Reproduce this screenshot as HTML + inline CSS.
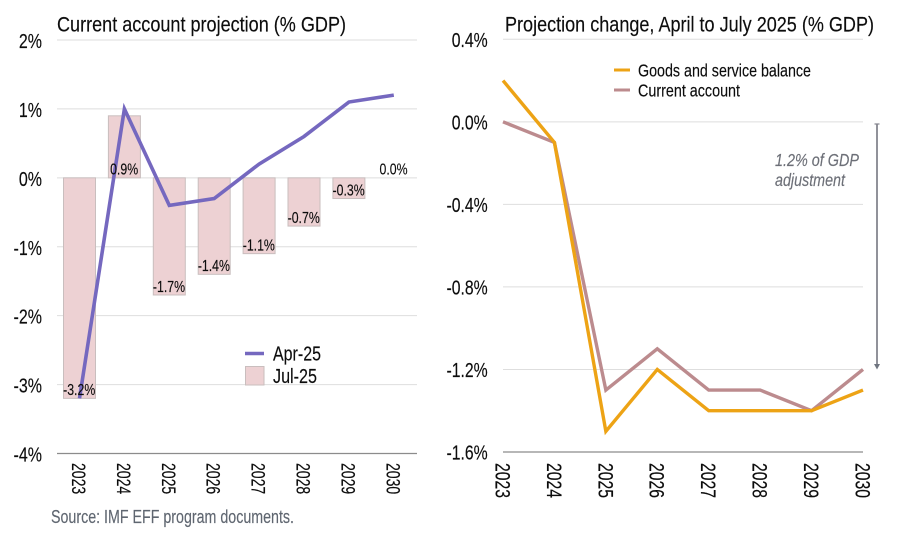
<!DOCTYPE html>
<html lang="en">
<head>
<meta charset="utf-8">
<title>Current account projection</title>
<style>
html,body{margin:0;padding:0;background:#fff;width:904px;height:540px;overflow:hidden}
svg{display:block;filter:blur(0.35px)}
text{font-family:"Liberation Sans",Arial,sans-serif;fill:#0d0d0d;stroke:#0d0d0d;stroke-width:0.15px}
</style>
</head>
<body>
<svg id="chart" width="904" height="540" viewBox="0 0 904 540" xmlns="http://www.w3.org/2000/svg"></svg>
<script>
const categories = ['2023','2024','2025','2026','2027','2028','2029','2030'];
const aprValues = [-3.2,1.0,-0.4,-0.3,0.2,0.6,1.1,1.2];
const julValues = [-3.2,0.9,-1.7,-1.4,-1.1,-0.7,-0.3,0.0];
const leftTicks = [2,1,0,-1,-2,-3,-4];
const goodsValues = [0.2,-0.1,-1.5,-1.2,-1.4,-1.4,-1.4,-1.3];
const currentValues = [0.0,-0.1,-1.3,-1.1,-1.3,-1.3,-1.4,-1.2];
const rightTicks = [0.4,0.0,-0.4,-0.8,-1.2,-1.6];

const svg = document.getElementById('chart');
const NS = 'http://www.w3.org/2000/svg';

function make(tag, attrs, name, parent) {
  const el = document.createElementNS(NS, tag);
  for (const k in attrs) el.setAttribute(k, attrs[k]);
  
  
  (parent || svg).appendChild(el);
  return el;
}
function label(str, x, y, size, sx, anchor, name, extra) {
  const el = make('text', Object.assign({
    transform: 'translate(' + x + ',' + y + ') scale(' + sx + ',1)',
    'font-size': size,
    'text-anchor': anchor
  }, extra || {}), name);
  el.textContent = str;
  return el;
}
function fitted(str, x, y, size, len, name, extra) {
  const el = make('text', Object.assign({
    x: x, y: y, 'font-size': size, textLength: len, lengthAdjust: 'spacingAndGlyphs'
  }, extra || {}), name);
  el.textContent = str;
  return el;
}
function vertical(str, cx, top, size, sx, name) {
  const el = make('text', {
    transform: 'translate(' + (cx - size * 0.36) + ',' + top + ') rotate(90) scale(' + sx + ',1)',
    'font-size': size,
    'text-anchor': 'start'
  }, name);
  el.textContent = str;
  return el;
}

/* ---------- left panel ---------- */
const L = {x0: 57, x1: 417, yTop: 40, yBottom: 453.5, max: 2, min: -4};
const leftY = v => L.yTop + (L.max - v) * (L.yBottom - L.yTop) / (L.max - L.min);
const leftBand = 44.9;
const leftX = i => 79.5 + i * leftBand;
const barW = 32;

fitted('Current account projection (% GDP)', 57, 31.5, 21.5, 289, 'left-chart-title');

leftTicks.forEach(t => {
  const y = leftY(t);
  make('line', {x1: L.x0, x2: L.x1, y1: y, y2: y, stroke: t === L.min ? '#8c8c8c' : '#dedede', 'stroke-width': t === L.min ? 1.2 : 1}, t === L.min ? 'left-x-axis' : 'left-gridline');
  label(t + '%', 42, y + 8, 20, 0.8, 'end', 'left-y-tick-label');
});

julValues.forEach((v, i) => {
  if (v === 0) return;
  const top = Math.min(leftY(v), leftY(0));
  const h = Math.abs(leftY(v) - leftY(0));
  make('rect', {x: leftX(i) - barW / 2, y: top, width: barW, height: h, fill: '#edd1d3', stroke: '#c9bebe', 'stroke-width': 1}, 'bar-jul-25-' + categories[i]);
});

make('polyline', {
  points: aprValues.map((v, i) => leftX(i) + ',' + leftY(v)).join(' '),
  fill: 'none', stroke: '#7568bf', 'stroke-width': 3.6, 'stroke-linejoin': 'miter'
}, 'line-apr-25');

julValues.forEach((v, i) => {
  const anchorY = v < 0 ? leftY(v) : leftY(0);
  label(v.toFixed(1) + '%', leftX(i) - 0.3, anchorY - 3.2, 16, 0.77, 'middle', 'data-label-' + categories[i]);
});

categories.forEach((c, i) => {
  vertical(c, leftX(i) - 0.5, 463, 19.5, 0.72, 'left-x-tick-label');
});

make('line', {x1: 245, x2: 264, y1: 353.5, y2: 353.5, stroke: '#7568bf', 'stroke-width': 3.4}, 'legend-apr-25-line');
fitted('Apr-25', 273, 360.5, 20, 48, 'legend-apr-25-label');
make('rect', {x: 245.5, y: 366.5, width: 18.5, height: 18.5, fill: '#edd1d3', stroke: '#c9bebe', 'stroke-width': 1}, 'legend-jul-25-swatch');
fitted('Jul-25', 273, 383, 20, 44, 'legend-jul-25-label');

fitted('Source: IMF EFF program documents.', 51, 523, 18, 243, 'source-note', {style: 'fill:#5f6670;stroke:#5f6670'});

/* ---------- right panel ---------- */
const R = {x0: 503, x1: 863, yTop: 39.3, yBottom: 452, max: 0.4, min: -1.6};
const rightY = v => R.yTop + (R.max - v) * (R.yBottom - R.yTop) / (R.max - R.min);
const rightX = i => R.x0 + i * (R.x1 - R.x0) / (categories.length - 1);

fitted('Projection change, April to July 2025 (% GDP)', 505, 31.5, 21.5, 369, 'right-chart-title');

rightTicks.forEach(t => {
  const y = rightY(t);
  make('line', {x1: R.x0, x2: R.x1, y1: y, y2: y, stroke: t === R.min ? '#8c8c8c' : '#dedede', 'stroke-width': t === R.min ? 1.2 : 1}, t === R.min ? 'right-x-axis' : 'right-gridline');
  label(t.toFixed(1) + '%', 487.7, y + 7.5, 20, 0.79, 'end', 'right-y-tick-label');
});

make('polyline', {
  points: currentValues.map((v, i) => rightX(i) + ',' + rightY(v)).join(' '),
  fill: 'none', stroke: '#bc8b8e', 'stroke-width': 3.4, 'stroke-linejoin': 'miter'
}, 'line-current-account');
make('polyline', {
  points: goodsValues.map((v, i) => rightX(i) + ',' + rightY(v)).join(' '),
  fill: 'none', stroke: '#eda315', 'stroke-width': 3.4, 'stroke-linejoin': 'miter'
}, 'line-goods-and-service-balance');

categories.forEach((c, i) => {
  vertical(c, rightX(i), 463, 21, 0.75, 'right-x-tick-label');
});

make('line', {x1: 614, x2: 630, y1: 70, y2: 70, stroke: '#eda315', 'stroke-width': 3}, 'legend-goods-line');
fitted('Goods and service balance', 638, 76.5, 17.5, 173, 'legend-goods-label');
make('line', {x1: 614, x2: 630, y1: 90, y2: 90, stroke: '#bc8b8e', 'stroke-width': 3}, 'legend-current-account-line');
fitted('Current account', 638, 96.5, 17.5, 102, 'legend-current-account-label');

fitted('1.2% of GDP', 775, 166, 17.5, 84, 'annotation-line-1', {'font-style': 'italic', style: 'fill:#6c6f77;stroke:#6c6f77'});
fitted('adjustment', 775, 186, 17.5, 70, 'annotation-line-2', {'font-style': 'italic', style: 'fill:#6c6f77;stroke:#6c6f77'});

make('line', {x1: 877, x2: 877, y1: 124, y2: 365, stroke: '#85868f', 'stroke-width': 1.8}, 'adjustment-arrow-shaft');
make('line', {x1: 874.5, x2: 879.5, y1: 124, y2: 124, stroke: '#85868f', 'stroke-width': 1.2}, 'adjustment-arrow-cap');
make('polygon', {points: '874,364 880,364 877,369.5', fill: '#6f7580'}, 'adjustment-arrow-head');
</script>
</body>
</html>
